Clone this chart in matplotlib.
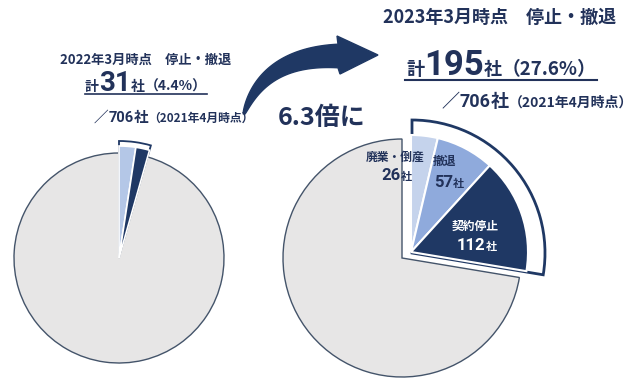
import numpy as np
import matplotlib
matplotlib.use("Agg")
import matplotlib.pyplot as plt
from matplotlib.patches import Polygon

plt.rcParams["font.family"] = ["Noto Sans CJK JP", "DejaVu Sans"]

W, H = 644, 383

# data
total_2021 = 706
cats_2022 = ["撤退", "契約停止"]
vals_2022 = [17, 14]
cats_2023 = ["廃業・倒産", "撤退", "契約停止"]
vals_2023 = [26, 57, 112]
pct_2022 = "4.4%"
pct_2023 = "27.6%"
ratio = "6.3倍に"

NAVY = "#1f3864"
TEXT = "#22325a"
GRAY = "#e7e6e6"
EDGE = "#44546a"
LIGHT = "#c5d3ec"
MID = "#8faadc"
NUM_FONT = ["Roboto", "DejaVu Sans"]


def draw_pie(ax, values, colors, center, radius, lw, ec, zorder, hide=()):
    wedges, _ = ax.pie(values, colors=colors, center=center, radius=radius,
                       startangle=90, counterclock=False, frame=True,
                       wedgeprops=dict(linewidth=lw, edgecolor=ec))
    for i, w in enumerate(wedges):
        w.set_zorder(zorder)
        if i in hide:
            w.set_visible(False)
    return wedges


def text_runs(ax, r, x, ypix, parts, ha="left", color=TEXT):
    # parts: (text, size, is_number)
    objs = []
    for s, size, num in parts:
        kw = dict(family=NUM_FONT) if num else {}
        t = ax.text(0, H - ypix, s, fontsize=size, color=color, fontweight="bold",
                    va="baseline", ha="left", zorder=10, **kw)
        objs.append(t)
    widths = [t.get_window_extent(renderer=r).width for t in objs]
    total = sum(widths)
    cur = x - total / 2 if ha == "center" else x
    for t, w in zip(objs, widths):
        t.set_x(cur)
        cur += w
    return cur


fig = plt.figure(figsize=(W / 100, H / 100), dpi=100)
ax = fig.add_axes([0, 0, 1, 1])

# left pie (2022)
rest_2022 = total_2021 - sum(vals_2022)
c_left = (119, H - 258)
draw_pie(ax, [sum(vals_2022), rest_2022], ["none", GRAY], c_left, 105, 1.0, EDGE, 2, hide=(0,))
draw_pie(ax, [sum(vals_2022), rest_2022], ["white", "none"], c_left, 117, 1.3, NAVY, 1, hide=(1,))
draw_pie(ax, vals_2022 + [rest_2022], ["#b4c7e7", NAVY, "none"], c_left, 112, 1.2, "white", 3, hide=(2,))

# right pie (2023)
rest_2023 = total_2021 - sum(vals_2023)
draw_pie(ax, [sum(vals_2023), rest_2023], ["none", GRAY], (402, H - 258), 119, 1.0, EDGE, 2, hide=(0,))
draw_pie(ax, [sum(vals_2023), rest_2023], ["white", "none"], (412, H - 253), 133, 2.0, NAVY, 1, hide=(1,))
draw_pie(ax, vals_2023 + [rest_2023], [LIGHT, MID, NAVY, "none"], (411, H - 252), 117, 1.5, "white", 3, hide=(3,))

ax.set_xlim(0, W)
ax.set_ylim(0, H)
ax.set_aspect("auto")
ax.axis("off")

r = fig.canvas.get_renderer()

# arrow
t = np.linspace(0, 1, 80)
p0, p1, p2 = np.array([244.0, 114.0]), np.array([264.0, 56.0]), np.array([338.0, 56.0])
c = ((1 - t) ** 2)[:, None] * p0 + (2 * (1 - t) * t)[:, None] * p1 + (t ** 2)[:, None] * p2
d = (2 * (1 - t))[:, None] * (p1 - p0) + (2 * t)[:, None] * (p2 - p1)
n = np.stack([-d[:, 1], d[:, 0]], axis=1)
n /= np.linalg.norm(n, axis=1)[:, None]
hw = 0.8 + 11.0 * t ** 0.7
side_a = c + n * hw[:, None]
side_b = c - n * hw[:, None]
head = np.array([[340, 74], [378, 55], [337, 36]])
pts = np.vstack([side_a, head, side_b[::-1]])
pts[:, 1] = H - pts[:, 1]
ax.add_patch(Polygon(pts, closed=True, color=NAVY, zorder=5))

# left texts
ax.text(146, H - 60, "2022年3月時点　停止・撤退", fontsize=9.5, color=TEXT,
        fontweight="bold", ha="center", va="center")
text_runs(ax, r, 85, 91, [("計", 10, False), (str(sum(vals_2022)), 20, True),
                          ("社", 10, False), (f"（{pct_2022}）", 10, False)])
ax.plot([85, 207], [H - 94, H - 94], color=TEXT, lw=1.2)
text_runs(ax, r, 94, 122, [("／", 10.5, False), (str(total_2021), 10.5, True),
                           ("社", 10.5, False), ("（2021年4月時点）", 8.5, False)])

# right texts
ax.text(500, H - 17, "2023年3月時点　停止・撤退", fontsize=13, color=TEXT,
        fontweight="bold", ha="center", va="center")
text_runs(ax, r, 406, 75, [("計", 13, False), (str(sum(vals_2023)), 25, True),
                           ("社", 13, False), (f"（{pct_2023}）", 13.5, False)])
ax.plot([405, 597], [H - 80, H - 80], color=TEXT, lw=1.5)
text_runs(ax, r, 442, 107, [("／", 13, False), (str(total_2021), 13, True),
                            ("社", 13, False), ("（2021年4月時点）", 10, False)])

ax.text(322, H - 118, ratio, fontsize=18, color=TEXT, fontweight="bold",
        ha="center", va="center")

# slice labels
ax.text(395, H - 157, cats_2023[0], fontsize=8.5, color=TEXT, fontweight="bold",
        ha="center", va="center", zorder=10)
text_runs(ax, r, 397, 180, [(str(vals_2023[0]), 12, True), ("社", 8, False)], ha="center")
ax.text(445, H - 161, cats_2023[1], fontsize=8.5, color=TEXT, fontweight="bold",
        ha="center", va="center", zorder=10)
text_runs(ax, r, 449, 187, [(str(vals_2023[1]), 12, True), ("社", 8, False)], ha="center")
ax.text(475, H - 226, cats_2023[2], fontsize=8.5, color="white", fontweight="bold",
        ha="center", va="center", zorder=10)
text_runs(ax, r, 477, 250, [(str(vals_2023[2]), 12, True), ("社", 8, False)],
          ha="center", color="white")

fig.savefig("out.png", dpi=100)
